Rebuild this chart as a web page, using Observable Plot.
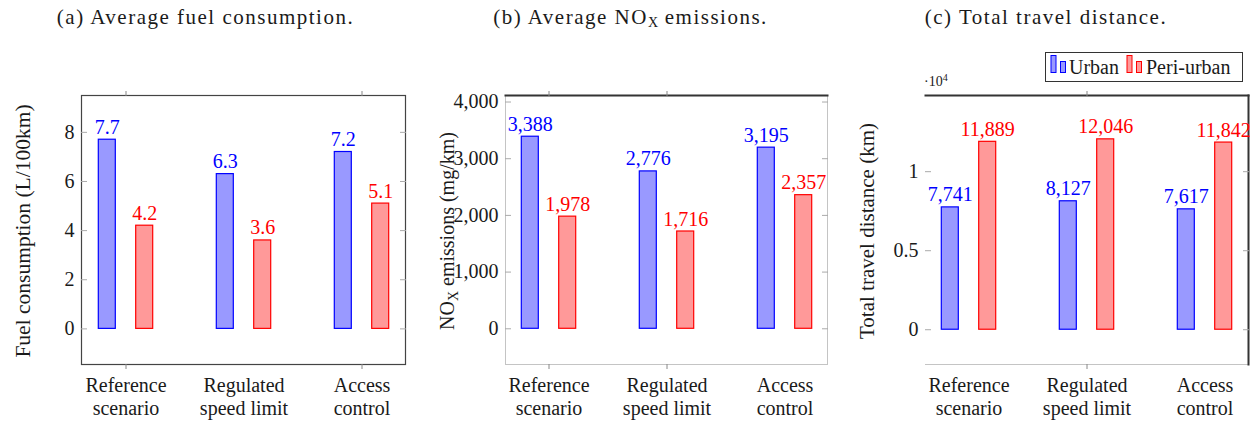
<!DOCTYPE html>
<html><head><meta charset="utf-8">
<script src="https://cdn.jsdelivr.net/npm/d3@7"></script>
<script src="https://cdn.jsdelivr.net/npm/@observablehq/plot@0.6"></script>
<style>
body{margin:0;background:#fff;}
#c{position:relative;width:1256px;height:424px;overflow:hidden;font-family:"Liberation Serif","DejaVu Serif",serif;color:#1a1a1a;background:#fff;}
.panel{position:absolute;top:40px;}
.panel svg text{font-family:"Liberation Serif","DejaVu Serif",serif;}
.title{position:absolute;top:7px;font-size:21px;line-height:21px;letter-spacing:1.5px;white-space:nowrap;transform:translateX(-50%);}
.title sub{font-size:14px;vertical-align:-3px;line-height:0;letter-spacing:0;}
#legend{position:absolute;left:1045px;top:52px;width:196px;height:28px;border:1px solid #333;background:#fff;font-size:20px;}
#legend .lab{position:absolute;top:2px;line-height:24px;white-space:nowrap;}
#legend svg{position:absolute;top:0;}
#mult{position:absolute;left:924px;top:75px;font-size:14px;line-height:14px;}
#mult sup{font-size:10px;vertical-align:5px;line-height:0;}
</style></head>
<body><div id="c"></div>
<script>
// ---- data ----
const categories = ["Reference scenario", "Regulated speed limit", "Access control"];
const tickLabels = ["Reference\nscenario", "Regulated\nspeed limit", "Access\ncontrol"];
const seriesNames = ["Urban", "Peri-urban"];
const fuelUrban = [7.7, 6.3, 7.2];
const fuelPeri = [4.2, 3.6, 5.1];
const noxUrban = [3388, 2776, 3195];
const noxPeri = [1978, 1716, 2357];
const distUrban = [7741, 8127, 7617];
const distPeri = [11889, 12046, 11842];
const fuelTicks = [0, 2, 4, 6, 8];
const noxTicks = [0, 1000, 2000, 3000, 4000];
const distTicks = [0, 5000, 10000];
const distTickLabels = ["0", "0.5", "1"];
const titles = ["(a) Average fuel consumption.", "(b) Average NO<sub>X</sub> emissions.", "(c) Total travel distance."];
const yLabels = ["Fuel consumption (L/100km)", "NOX emissions (mg/km)", "Total travel distance (km)"];

const URBAN_FILL = "#9999ff", URBAN_STROKE = "#0000ff";
const PERI_FILL = "#ff9999", PERI_STROKE = "#ff0000";
const FONT = "'Liberation Serif', 'DejaVu Serif', serif";
const root = document.getElementById("c");

function rows(values) { return categories.map((c, i) => ({category: c, value: values[i]})); }

function panel(o) {
  const W = o.width, H = 384;
  const step = 118.7, bw = 17;
  const frameW = W - o.marginLeft - o.marginRight;
  const pi = 1 - bw / step;
  const po = (frameW / step - 3 + pi) / 2;
  const off = 18.7;
  const marks = [
    ...o.frames.map(f => Plot.frame(f)),
    Plot.axisY(o.yTicks, {anchor: "left", tickSize: -6, tickPadding: 13, tickFormat: o.yTickFormat, fontSize: 20, stroke: "#aaa", label: null}),
    Plot.axisY(o.yTicks, {anchor: "right", tickSize: -6, tickFormat: () => "", stroke: "#aaa", label: null}),
    Plot.axisX({tickSize: 0, tickPadding: 11, fontSize: 20, lineHeight: 1.15, tickFormat: d => tickLabels[categories.indexOf(d)], label: null}),
    Plot.axisX(o.shownTicks, {anchor: "bottom", tickSize: 5, tickFormat: () => "", stroke: "#888", label: null}),
    Plot.axisX(o.shownTicks, {anchor: "top", tickSize: 5, tickFormat: () => "", stroke: "#888", label: null}),
    Plot.barY(rows(o.urban), {x: "category", y: "value", fill: URBAN_FILL, stroke: URBAN_STROKE, strokeWidth: 1.2, dx: -off}),
    Plot.barY(rows(o.peri), {x: "category", y: "value", fill: PERI_FILL, stroke: PERI_STROKE, strokeWidth: 1.2, dx: off}),
    Plot.text(rows(o.urban), {x: "category", y: "value", text: d => o.valueFormat(d.value), fill: URBAN_STROKE, lineAnchor: "bottom", dy: -6, dx: -off, fontSize: 20}),
    Plot.text(rows(o.peri), {x: "category", y: "value", text: d => o.valueFormat(d.value), fill: PERI_STROKE, lineAnchor: "bottom", dy: -6, dx: off, fontSize: 20}),
    Plot.text([o.yLabel], {text: d => d, frameAnchor: "left", textAnchor: "middle", lineAnchor: "middle", rotate: -90, dx: -58, dy: 1, fontSize: o.yLabelSize, fill: "#1a1a1a"})
  ];
  const chart = Plot.plot({
    width: W, height: H,
    marginLeft: o.marginLeft, marginRight: o.marginRight, marginTop: 55, marginBottom: 60,
    style: {fontFamily: FONT, fontSize: "20px", color: "#1a1a1a", background: "transparent", overflow: "visible"},
    x: {type: "band", domain: categories, paddingInner: pi, paddingOuter: po, label: null},
    y: {domain: o.yDomain, label: null},
    marks
  });
  if (o.fix) o.fix(chart);
  const div = document.createElement("div");
  div.className = "panel";
  div.style.left = o.left + "px";
  div.appendChild(chart);
  root.appendChild(div);
}

panel({
  urban: fuelUrban, peri: fuelPeri, yDomain: [-1.45, 9.5], yTicks: fuelTicks,
  yTickFormat: d3.format("d"), valueFormat: d3.format(".1f"), yLabel: yLabels[0], yLabelSize: 21.5,
  left: 0, width: 418, marginLeft: 81, marginRight: 13,
  frames: [{stroke: "#444", strokeWidth: 1.2}],
  shownTicks: [categories[0], categories[2]]
});
panel({
  urban: noxUrban, peri: noxPeri, yDomain: [-630, 4115], yTicks: noxTicks,
  yTickFormat: d3.format(","), valueFormat: d3.format(","), yLabel: yLabels[1], yLabelSize: 20,
  left: 418, width: 418, marginLeft: 87, marginRight: 9,
  frames: [{stroke: "#c4c4c4"}, {anchor: "top", stroke: "#333", strokeWidth: 2}],
  shownTicks: [categories[0], categories[1]],
  fix: chart => {
    for (const t of chart.querySelectorAll("text")) {
      if (t.textContent === yLabels[1]) {
        t.innerHTML = 'NO<tspan font-size="14" dy="4">X</tspan><tspan dy="-4"> emissions (mg/km)</tspan>';
      }
    }
  }
});
panel({
  urban: distUrban, peri: distPeri, yDomain: [-2200, 14820], yTicks: distTicks,
  yTickFormat: d => distTickLabels[distTicks.indexOf(d)], valueFormat: d3.format(","), yLabel: yLabels[2], yLabelSize: 21,
  left: 836, width: 420, marginLeft: 89, marginRight: 8,
  frames: [{anchor: "bottom", stroke: "#c4c4c4"}, {anchor: "top", stroke: "#333", strokeWidth: 2}, {anchor: "right", stroke: "#333", strokeWidth: 2}],
  shownTicks: [categories[1]]
});

// titles
const centers = [205.5, 630.5, 1046];
titles.forEach((t, i) => {
  const d = document.createElement("div");
  d.className = "title";
  d.style.left = centers[i] + "px";
  d.innerHTML = t;
  root.appendChild(d);
});

// multiplier
const m = document.createElement("div");
m.id = "mult";
m.innerHTML = "&middot;10<sup>4</sup>";
root.appendChild(m);

// legend
const lg = document.createElement("div");
lg.id = "legend";
function icon(fill, stroke, left) {
  return `<svg width="18" height="22" style="left:${left}px" viewBox="0 0 18 22">
    <rect x="1" y="2.5" width="5" height="17" fill="${fill}" stroke="${stroke}" stroke-width="1"/>
    <rect x="10.5" y="8.5" width="5" height="11" fill="${fill}" stroke="${stroke}" stroke-width="1"/></svg>`;
}
lg.innerHTML = icon(URBAN_FILL, URBAN_STROKE, 4) + `<span class="lab" style="left:23px">${seriesNames[0]}</span>` +
  icon(PERI_FILL, PERI_STROKE, 80) + `<span class="lab" style="left:100px">${seriesNames[1]}</span>`;
root.appendChild(lg);
</script></body></html>
